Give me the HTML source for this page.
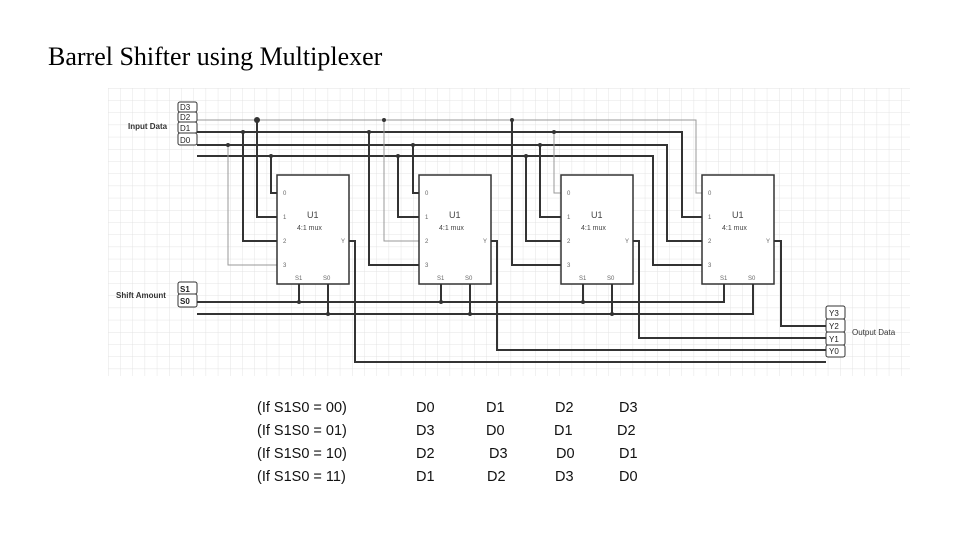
<!DOCTYPE html>
<html><head><meta charset="utf-8"><style>
html,body{margin:0;padding:0;background:#fff;width:960px;height:540px;overflow:hidden}
.t{position:absolute;font-family:"Liberation Sans",sans-serif;font-size:14.5px;color:#111}
</style></head><body>
<div style="position:absolute;left:48px;top:42px;font-family:'Liberation Serif',serif;font-size:26px;color:#000">Barrel Shifter using Multiplexer</div>
<svg width="960" height="540" style="position:absolute;left:0;top:0" xmlns="http://www.w3.org/2000/svg">
<defs>
<pattern id="g" width="12.2" height="12.2" patternUnits="userSpaceOnUse" x="108" y="88">
<path d="M0 0H12.2M0 0V12.2" stroke="#e3e3e3" stroke-width="1" fill="none"/>
</pattern>
</defs>
<rect x="108" y="88" width="802" height="288" fill="url(#g)"/>
<g font-family="Liberation Sans,sans-serif" fill="#333">
<text x="128" y="129" font-size="8" font-weight="bold">Input Data</text>
<text x="116" y="298" font-size="8" font-weight="bold">Shift Amount</text>
<text x="852" y="335" font-size="8">Output Data</text>
</g>
<g fill="none" stroke="#333" stroke-width="2">
<!-- input buses -->
<path d="M197 120H696V193H702" stroke="#999" stroke-width="1"/>
<path d="M197 132H682V217H702"/>
<path d="M197 145H667V241H702"/>
<path d="M197 156H653V265H702"/>
<!-- mux1 -->
<path d="M271 156V193H277"/>
<path d="M257 120V217H277"/>
<path d="M243 132V241H277"/>
<path d="M228 145V265H277" stroke="#999" stroke-width="1"/>
<!-- mux2 -->
<path d="M413 145V193H419"/>
<path d="M398 156V217H419"/>
<path d="M384 120V241H419" stroke="#999" stroke-width="1"/>
<path d="M369 132V265H419"/>
<!-- mux3 -->
<path d="M554 132V193H561" stroke="#999" stroke-width="1"/>
<path d="M540 145V217H561"/>
<path d="M526 156V241H561"/>
<path d="M512 120V265H561"/>
<!-- selects -->
<path d="M197 302H724V284"/>
<path d="M197 314H753V284"/>
<path d="M299 284V302M328 284V314M441 284V302M470 284V314M583 284V302M612 284V314"/>
<!-- outputs -->
<path d="M774 241H781V326H826"/>
<path d="M632 241H639V338H826"/>
<path d="M491 241H497V350H826"/>
<path d="M349 241H355V362H826"/>
</g>
<g fill="#333">
<circle cx="257" cy="120" r="3"/><circle cx="243" cy="132" r="2"/><circle cx="228" cy="145" r="2"/><circle cx="271" cy="156" r="2"/>
<circle cx="384" cy="120" r="2"/><circle cx="369" cy="132" r="2"/><circle cx="413" cy="145" r="2"/><circle cx="398" cy="156" r="2"/>
<circle cx="512" cy="120" r="2"/><circle cx="554" cy="132" r="2"/><circle cx="540" cy="145" r="2"/><circle cx="526" cy="156" r="2"/>
<circle cx="299" cy="302" r="2"/><circle cx="441" cy="302" r="2"/><circle cx="583" cy="302" r="2"/><circle cx="328" cy="314" r="2"/><circle cx="470" cy="314" r="2"/><circle cx="612" cy="314" r="2"/>
</g>
<!-- mux boxes -->
<g font-family="Liberation Sans,sans-serif" fill="#666" font-size="6">
<g id="m">
<rect x="277" y="175" width="72" height="109" fill="#fff" stroke="#333" stroke-width="1.5"/>
<text x="283" y="195">0</text><text x="283" y="219">1</text><text x="283" y="243">2</text><text x="283" y="267">3</text>
<text x="341" y="243">Y</text><text x="295" y="280">S1</text><text x="323" y="280">S0</text>
<text x="307" y="218" font-size="9" fill="#444">U1</text><text x="297" y="230" font-size="7" fill="#444">4:1 mux</text>
</g>
<use href="#m" x="142"/><use href="#m" x="284"/><use href="#m" x="425"/>
</g>
<!-- label boxes -->
<g font-family="Liberation Sans,sans-serif" font-size="8" fill="#222" stroke="#333" stroke-width="1">
<rect x="178" y="102" width="19" height="10" rx="2" fill="#fff"/><rect x="178" y="112" width="19" height="10" rx="2" fill="#fff"/>
<rect x="178" y="122" width="19" height="11" rx="2" fill="#fff"/><rect x="178" y="133" width="19" height="12" rx="2" fill="#fff"/>
<rect x="178" y="282" width="19" height="12" rx="2" fill="#fff"/><rect x="178" y="294" width="19" height="13" rx="2" fill="#fff"/>
<rect x="826" y="306" width="19" height="13" rx="2" fill="#fff"/><rect x="826" y="319" width="19" height="13" rx="2" fill="#fff"/>
<rect x="826" y="332" width="19" height="13" rx="2" fill="#fff"/><rect x="826" y="345" width="19" height="12" rx="2" fill="#fff"/>
<g stroke="none">
<text x="180" y="110">D3</text><text x="180" y="120">D2</text><text x="180" y="131">D1</text><text x="180" y="143">D0</text>
<text x="180" y="292" font-weight="bold">S1</text><text x="180" y="304" font-weight="bold">S0</text>
<text x="829" y="316">Y3</text><text x="829" y="329">Y2</text><text x="829" y="342">Y1</text><text x="829" y="354">Y0</text>
</g>
</g>
</svg>
<div class="t" style="left:257px;top:400px">(If S1S0 = 00)</div>
<div class="t" style="left:257px;top:423px">(If S1S0 = 01)</div>
<div class="t" style="left:257px;top:446px">(If S1S0 = 10)</div>
<div class="t" style="left:257px;top:469px">(If S1S0 = 11)</div>
<div class="t" style="left:416px;top:400px">D0</div><div class="t" style="left:486px;top:400px">D1</div><div class="t" style="left:555px;top:400px">D2</div><div class="t" style="left:619px;top:400px">D3</div>
<div class="t" style="left:416px;top:423px">D3</div><div class="t" style="left:486px;top:423px">D0</div><div class="t" style="left:554px;top:423px">D1</div><div class="t" style="left:617px;top:423px">D2</div>
<div class="t" style="left:416px;top:446px">D2</div><div class="t" style="left:489px;top:446px">D3</div><div class="t" style="left:556px;top:446px">D0</div><div class="t" style="left:619px;top:446px">D1</div>
<div class="t" style="left:416px;top:469px">D1</div><div class="t" style="left:487px;top:469px">D2</div><div class="t" style="left:555px;top:469px">D3</div><div class="t" style="left:619px;top:469px">D0</div>
</body></html>
